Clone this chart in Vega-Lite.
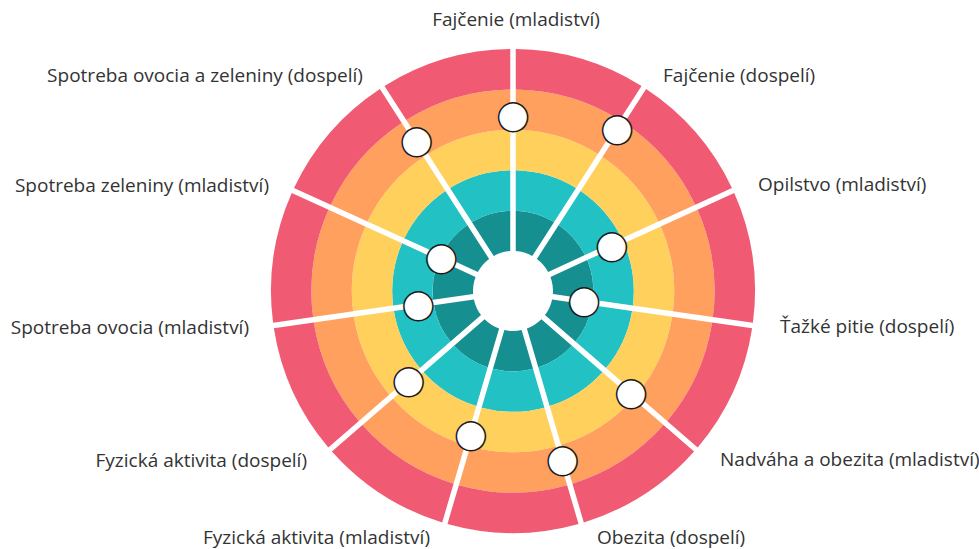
{
  "$schema": "https://vega.github.io/schema/vega-lite/v6.json",
  "width": 932,
  "height": 516,
  "autosize": {"type": "none"},
  "padding": {"left": 47, "top": 33, "right": 0, "bottom": 0},
  "background": "white",
  "config": {"view": {"stroke": null}},
  "data": {"values": [
    {"kat": "Fajčenie (mladiství)", "i": 0, "j": 1, "v": 3.35},
    {"kat": "Fajčenie (dospelí)", "i": 1, "j": 2, "v": 3.77},
    {"kat": "Opilstvo (mladiství)", "i": 2, "j": 3, "v": 1.70},
    {"kat": "Ťažké pitie (dospelí)", "i": 3, "j": 4, "v": 0.79},
    {"kat": "Nadváha a obezita (mladiství)", "i": 4, "j": 5, "v": 2.88},
    {"kat": "Obezita (dospelí)", "i": 5, "j": 6, "v": 3.37},
    {"kat": "Fyzická aktivita (mladiství)", "i": 6, "j": 7, "v": 2.72},
    {"kat": "Fyzická aktivita (dospelí)", "i": 7, "j": 8, "v": 2.43},
    {"kat": "Spotreba ovocia (mladiství)", "i": 8, "j": 9, "v": 1.38},
    {"kat": "Spotreba zeleniny (mladiství)", "i": 9, "j": 10, "v": 0.96},
    {"kat": "Spotreba ovocia a zeleniny (dospelí)", "i": 10, "j": 11, "v": 3.43}
  ]},
  "encoding": {
    "theta": {"field": "i", "type": "quantitative", "scale": {"domain": [0, 11], "range": [0, 6.283185307179586]}}
  },
  "layer": [
    {
      "mark": {"type": "arc", "padAngle": 0.06125, "color": "#168F91"},
      "encoding": {
        "theta2": {"field": "j"},
        "radius": {"datum": 0, "type": "quantitative", "scale": {"type": "linear", "domain": [0, 5], "range": [40, 242]}},
        "radius2": {"datum": 1}
      }
    },
    {
      "mark": {"type": "arc", "padAngle": 0.0379, "color": "#22C1C3"},
      "encoding": {"theta2": {"field": "j"}, "radius": {"datum": 1, "type": "quantitative"}, "radius2": {"datum": 2}}
    },
    {
      "mark": {"type": "arc", "padAngle": 0.0273, "color": "#FFD05C"},
      "encoding": {"theta2": {"field": "j"}, "radius": {"datum": 2, "type": "quantitative"}, "radius2": {"datum": 3}}
    },
    {
      "mark": {"type": "arc", "padAngle": 0.02131, "color": "#FFA05F"},
      "encoding": {"theta2": {"field": "j"}, "radius": {"datum": 3, "type": "quantitative"}, "radius2": {"datum": 4}}
    },
    {
      "mark": {"type": "arc", "padAngle": 0.01746, "color": "#F05A73"},
      "encoding": {"theta2": {"field": "j"}, "radius": {"datum": 4, "type": "quantitative"}, "radius2": {"datum": 5}}
    },
    {
      "mark": {"type": "text", "text": "●", "font": "DejaVu Sans", "fontSize": 38, "align": "center", "baseline": "middle", "fill": "white", "stroke": "#1a1a1a", "strokeWidth": 1.5},
      "encoding": {"radius": {"field": "v", "type": "quantitative"}}
    },
    {
      "transform": [{"filter": "datum.i == 0"}],
      "mark": {"type": "text", "align": "center", "baseline": "middle", "font": "Open Sans", "fontSize": 19, "color": "#333333", "dx": 3},
      "encoding": {"radius": {"datum": 5.718, "type": "quantitative"}, "text": {"field": "kat"}}
    },
    {
      "transform": [{"filter": "datum.i == 1"}],
      "mark": {"type": "text", "align": "left", "baseline": "middle", "font": "Open Sans", "fontSize": 19, "color": "#333333", "dy": 18},
      "encoding": {"radius": {"datum": 5.879, "type": "quantitative"}, "text": {"field": "kat"}}
    },
    {
      "transform": [{"filter": "datum.i == 2"}],
      "mark": {"type": "text", "align": "left", "baseline": "middle", "font": "Open Sans", "fontSize": 19, "color": "#333333", "dy": 6},
      "encoding": {"radius": {"datum": 5.676, "type": "quantitative"}, "text": {"field": "kat"}}
    },
    {
      "transform": [{"filter": "datum.i == 3"}],
      "mark": {"type": "text", "align": "left", "baseline": "middle", "font": "Open Sans", "fontSize": 19, "color": "#333333", "dy": -2},
      "encoding": {"radius": {"datum": 5.688, "type": "quantitative"}, "text": {"field": "kat"}}
    },
    {
      "transform": [{"filter": "datum.i == 4"}],
      "mark": {"type": "text", "align": "left", "baseline": "middle", "font": "Open Sans", "fontSize": 19, "color": "#333333", "dy": -10},
      "encoding": {"radius": {"datum": 5.79, "type": "quantitative"}, "text": {"field": "kat"}}
    },
    {
      "transform": [{"filter": "datum.i == 5"}],
      "mark": {"type": "text", "align": "left", "baseline": "middle", "font": "Open Sans", "fontSize": 19, "color": "#333333", "dy": -39},
      "encoding": {"radius": {"datum": 6.386, "type": "quantitative"}, "text": {"field": "kat"}}
    },
    {
      "transform": [{"filter": "datum.i == 6"}],
      "mark": {"type": "text", "align": "right", "baseline": "middle", "font": "Open Sans", "fontSize": 19, "color": "#333333", "dy": -36},
      "encoding": {"radius": {"datum": 6.302, "type": "quantitative"}, "text": {"field": "kat"}}
    },
    {
      "transform": [{"filter": "datum.i == 7"}],
      "mark": {"type": "text", "align": "right", "baseline": "middle", "font": "Open Sans", "fontSize": 19, "color": "#333333", "dy": -9},
      "encoding": {"radius": {"datum": 5.757, "type": "quantitative"}, "text": {"field": "kat"}}
    },
    {
      "transform": [{"filter": "datum.i == 8"}],
      "mark": {"type": "text", "align": "right", "baseline": "middle", "font": "Open Sans", "fontSize": 19, "color": "#333333", "dy": -1},
      "encoding": {"radius": {"datum": 5.611, "type": "quantitative"}, "text": {"field": "kat"}}
    },
    {
      "transform": [{"filter": "datum.i == 9"}],
      "mark": {"type": "text", "align": "right", "baseline": "middle", "font": "Open Sans", "fontSize": 19, "color": "#333333", "dy": 6},
      "encoding": {"radius": {"datum": 5.649, "type": "quantitative"}, "text": {"field": "kat"}}
    },
    {
      "transform": [{"filter": "datum.i == 10"}],
      "mark": {"type": "text", "align": "right", "baseline": "middle", "font": "Open Sans", "fontSize": 19, "color": "#333333", "dy": 18},
      "encoding": {"radius": {"datum": 5.879, "type": "quantitative"}, "text": {"field": "kat"}}
    }
  ]
}
